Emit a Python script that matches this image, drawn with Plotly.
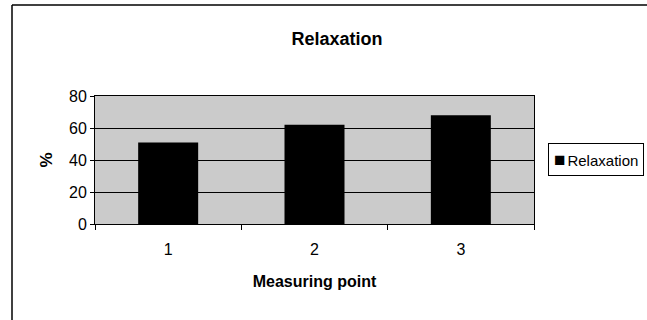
import plotly.graph_objects as go

categories = ["1", "2", "3"]
relaxation = [51, 62, 68]
y_ticks = [0, 20, 40, 60, 80]
series_name = "Relaxation"

W, H = 647, 320
ml, mr, mt, mb = 95, 113, 96, 96
pw, ph = W - ml - mr, H - mt - mb


def px_x(x):
    return (x - ml) / pw


def px_y(y):
    return (H - mb - y) / ph


fig = go.Figure()
fig.add_trace(go.Bar(
    x=categories, y=relaxation, name=series_name,
    marker=dict(color="#000000", line=dict(color="#000000", width=0)),
    showlegend=False,
))

fig.update_layout(
    width=W, height=H,
    margin=dict(l=ml, r=mr, t=mt, b=mb, autoexpand=False),
    paper_bgcolor="white",
    plot_bgcolor="#cbcbcb",
    bargap=0.59,
    font=dict(family="Liberation Sans, Arial, sans-serif", color="#000"),
    title=dict(text="<b>Relaxation</b>", x=337 / W, xanchor="center",
               y=1 - 39 / H, yanchor="middle", font=dict(size=18)),
    showlegend=False,
    xaxis=dict(
        type="category", showgrid=False, showline=True, linecolor="#000", linewidth=1,
        ticks="outside", ticklen=5, tickcolor="#000", tickson="boundaries",
        mirror=True, tickfont=dict(size=16), ticklabelstandoff=11,
        title=dict(text="<b>Measuring point</b>", font=dict(size=16), standoff=18),
    ),
    yaxis=dict(
        range=[0, 80], tickvals=y_ticks, showgrid=True, gridcolor="#000", gridwidth=1,
        showline=True, linecolor="#000", linewidth=1, mirror=True,
        ticks="outside", ticklen=4, tickcolor="#000", tickfont=dict(size=16),
        title=dict(text="<b>%</b>", font=dict(size=17), standoff=12),
        zeroline=False,
    ),
    shapes=[
        # outer chart border (left and top visible in scan)
        dict(type="line", xref="paper", yref="paper",
             x0=px_x(12), x1=px_x(12), y0=px_y(5), y1=px_y(330),
             line=dict(color="#000", width=1.5)),
        dict(type="line", xref="paper", yref="paper",
             x0=px_x(12), x1=px_x(660), y0=px_y(5), y1=px_y(5),
             line=dict(color="#000", width=1.5)),
    ],
    annotations=[
        # legend
        dict(xref="paper", yref="paper", x=px_x(548), y=px_y(159.5),
             xanchor="left", yanchor="middle", showarrow=False,
             text="<span style='font-size:19px'>■</span><span style='font-size:7px'> </span>" + series_name,
             font=dict(size=15), bordercolor="#000", borderwidth=1,
             borderpad=5, bgcolor="white", align="left"),
    ],
)

fig.write_html("out.html")
